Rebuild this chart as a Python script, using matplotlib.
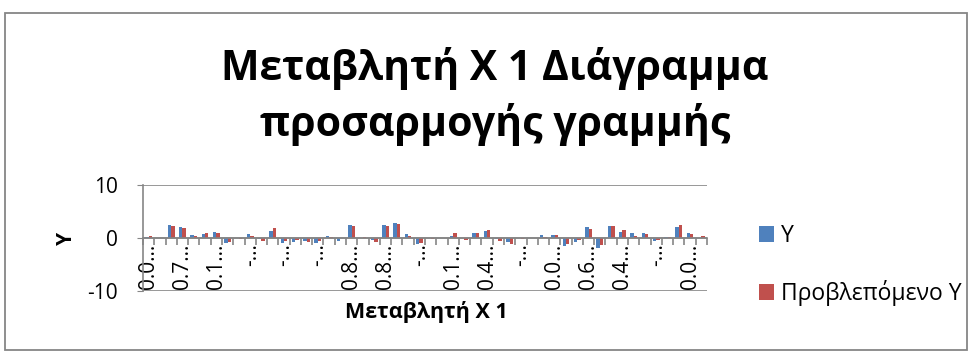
import matplotlib
matplotlib.use("Agg")
import matplotlib.pyplot as plt
import numpy as np
from matplotlib.patches import Rectangle

plt.rcParams["font.family"] = ["Open Sans", "DejaVu Sans"]
plt.rcParams["axes.unicode_minus"] = False

# Residual-style values for each X 1 category
y_obs = [0.2, 0.05, 2.4, 2.1, 0.6, 0.8, 1.2, -1.0, 0.0, 0.8,
         -0.1, 1.4, -1.0, -0.8, -0.6, -0.9, 0.45, -0.6, 2.4, 0.0,
         -0.45, 2.4, 2.9, 0.7, -1.2, 0.0, 0.0, 0.3, 0.0, 0.9,
         1.3, -0.1, -0.8, 0.0, 0.0, 0.5, 0.5, -1.5, -0.8, 2.1,
         -1.8, 2.25, 1.1, 0.9, 1.0, -0.5, 0.2, 2.0, 0.85, 0.0]
y_pred = [0.3, 0.05, 2.35, 1.9, 0.4, 1.0, 0.85, -0.7, -0.1, 0.4,
          -0.5, 1.9, -0.6, -0.45, -0.8, -0.6, 0.25, 0.0, 2.3, 0.1,
          -0.75, 2.2, 2.6, 0.3, -1.0, -0.2, 0.0, 0.9, -0.3, 0.9,
          1.5, -0.6, -1.1, -0.2, 0.0, 0.15, 0.55, -1.1, -0.4, 1.7,
          -1.4, 2.3, 1.5, 0.45, 0.75, -0.4, 0.25, 2.4, 0.7, 0.45]
tick_labels = ["0.0…", "0.7…", "0.1…", "-…", "-…", "-…", "0.8…", "0.8…", "-…",
               "0.1…", "0.4…", "-…", "0.0…", "0.6…", "0.4…", "-…", "0.0…"]
label_step = 3

blue = "#4F81BD"
red = "#C0504D"
gray = "#868686"

n = len(y_obs)
x = np.arange(n)
w = 0.3

fig = plt.figure(figsize=(9.71, 3.54), dpi=100)
ax = fig.add_axes([143 / 971, 1 - 291 / 354, 564 / 971, 106 / 354])

ax.bar(x - w / 2, y_obs, w, color=blue, label="Y", zorder=3)
ax.bar(x + w / 2, y_pred, w, color=red, label="Προβλεπόμενο Y", zorder=3)

ax.set_xlim(-0.5, n - 0.5)
ax.set_ylim(-10, 10)
ax.set_yticks([-10, 0, 10])
ax.tick_params(axis="y", labelsize=15, length=4, color=gray, pad=14)
ax.yaxis.grid(True, color=gray, lw=1.2)
ax.set_axisbelow(True)

for s in ("top", "right"):
    ax.spines[s].set_visible(False)
ax.spines["left"].set_color(gray)
ax.spines["left"].set_linewidth(1.2)
ax.spines["bottom"].set_position(("data", 0))
ax.spines["bottom"].set_color(gray)
ax.spines["bottom"].set_linewidth(1.2)
ax.spines["bottom"].set_zorder(4)

ax.set_xticks(x[::label_step])
ax.set_xticklabels(tick_labels, rotation=90, fontsize=15, va="top", ha="center")
ax.set_xticks(np.arange(n + 1) - 0.5, minor=True)
ax.tick_params(axis="x", which="major", length=0, pad=4)
ax.tick_params(axis="x", which="minor", length=5, color=gray, width=1.2)

fig.text(66 / 971, 1 - 238 / 354, "Y", fontsize=15, fontweight="bold",
         rotation=90, ha="center", va="center")
fig.text(426 / 971, 1 - 312 / 354, "Μεταβλητή X 1", fontsize=15.5, fontweight="bold",
         ha="center", va="center")

fig.text(495 / 971, 1 - 68 / 354, "Μεταβλητή X 1 Διάγραμμα", fontsize=29.5,
         fontweight="bold", ha="center", va="center")
fig.text(495 / 971, 1 - 124 / 354, "προσαρμογής γραμμής", fontsize=29.5,
         fontweight="bold", ha="center", va="center")

ax.legend(loc="center left", bbox_to_anchor=(750 / 971, 1 - 265 / 354),
          bbox_transform=fig.transFigure, frameon=False, fontsize=16.5,
          handlelength=0.65, handleheight=0.65, handletextpad=0.3,
          labelspacing=1.4, borderaxespad=0)

fig.add_artist(Rectangle((5 / 971, 4 / 354), 962 / 971, 337 / 354,
                         transform=fig.transFigure, fill=False,
                         edgecolor=gray, lw=1.3))

fig.savefig("out.png", dpi=100)
